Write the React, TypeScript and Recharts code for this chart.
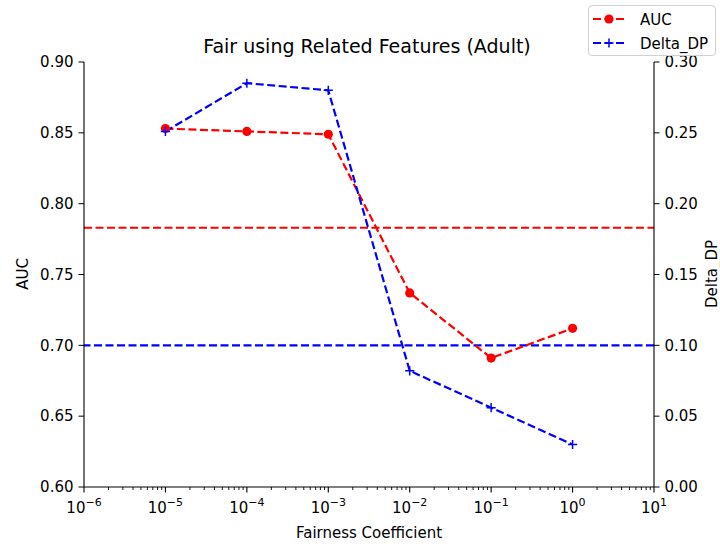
import React from 'react';
import {
  LineChart,
  Line,
  XAxis,
  YAxis,
  ReferenceLine,
} from 'recharts';

const coefficients = [1e-5, 1e-4, 1e-3, 1e-2, 1e-1, 1];
const aucValues = [0.853, 0.851, 0.849, 0.737, 0.691, 0.712];
const deltaDpValues = [0.251, 0.285, 0.280, 0.082, 0.056, 0.030];

const aucBaseline = 0.783;
const deltaDpBaseline = 0.10;

const majorExponents = [-6, -5, -4, -3, -2, -1, 0, 1];
const aucTicks = [0.6, 0.65, 0.7, 0.75, 0.8, 0.85, 0.9];
const deltaTicks = [0, 0.05, 0.1, 0.15, 0.2, 0.25, 0.3];

const FONT = '"DejaVu Sans", sans-serif';
const RED = '#ff0000';
const BLUE = '#0000ff';
const DASH = '8 3.5';

// Major + minor ticks for the log axis
const xTicks: number[] = [];
majorExponents.forEach((e, i) => {
  xTicks.push(Math.pow(10, e));
  if (i < majorExponents.length - 1) {
    for (let m = 2; m <= 9; m++) xTicks.push(m * Math.pow(10, e));
  }
});

const data = coefficients.map((c, i) => ({
  coef: c,
  auc: aucValues[i],
  dp: deltaDpValues[i],
}));

const LogTick = (props: any) => {
  const { x, y, payload } = props;
  const v = payload.value;
  const exp = Math.log10(v);
  const isMajor = Math.abs(exp - Math.round(exp)) < 1e-6;
  const top = y - 8;
  if (!isMajor) {
    return <line x1={x} x2={x} y1={top} y2={top + 3} stroke="#000" strokeWidth={0.9} />;
  }
  const e = Math.round(exp);
  return (
    <g>
      <line x1={x} x2={x} y1={top} y2={top + 5.5} stroke="#000" strokeWidth={1.1} />
      <text x={x} y={top + 26} textAnchor="middle" fontFamily={FONT} fontSize={15} fill="#000">
        <tspan>10</tspan>
        <tspan dy={-7} fontSize={11}>{e < 0 ? `\u2212${-e}` : `${e}`}</tspan>
      </text>
    </g>
  );
};

const PlusDot = (props: any) => {
  const { cx, cy } = props;
  if (cx == null || cy == null) return null;
  const r = 4.6;
  return (
    <path
      d={`M${cx - r},${cy}H${cx + r}M${cx},${cy - r}V${cy + r}`}
      stroke={BLUE}
      strokeWidth={1.5}
      fill="none"
    />
  );
};

const legendItems = [
  { name: 'AUC', color: RED, marker: 'circle' },
  { name: 'Delta_DP', color: BLUE, marker: 'plus' },
];

const Legend = () => (
  <div
    style={{
      position: 'absolute',
      left: 588,
      top: 5,
      width: 128,
      height: 51,
      border: '1px solid #d0d0d0',
      borderRadius: 4,
      background: 'rgba(255,255,255,0.8)',
      boxSizing: 'border-box',
    }}
  >
    <svg width={128} height={51}>
      {legendItems.map((it, i) => {
        const cy = 13 + i * 24;
        return (
          <g key={it.name}>
            <line x1={4} x2={36} y1={cy} y2={cy} stroke={it.color} strokeWidth={2.2} strokeDasharray={DASH} />
            {it.marker === 'circle' ? (
              <circle cx={20} cy={cy} r={4.6} fill={it.color} />
            ) : (
              <path d={`M15.4,${cy}H24.6M20,${cy - 4.6}V${cy + 4.6}`} stroke={it.color} strokeWidth={1.5} />
            )}
            <text x={51} y={cy + 5.5} fontFamily={FONT} fontSize={15} fill="#000">
              {it.name}
            </text>
          </g>
        );
      })}
    </svg>
  </div>
);

export default function App() {
  return (
    <div style={{ position: 'absolute', left: 0, top: 0, width: 720, height: 548, background: '#fff' }}>
      <LineChart
        width={720}
        height={548}
        data={data}
        margin={{ top: 62, right: 16, bottom: 21, left: 20 }}
      >
        <XAxis
          dataKey="coef"
          type="number"
          scale="log"
          domain={[1e-6, 10]}
          ticks={xTicks}
          interval={0}
          tick={<LogTick />}
          tickLine={false}
          axisLine={{ stroke: '#000', strokeWidth: 1.1 }}
          height={40}
          allowDataOverflow
        />
        <XAxis
          xAxisId="top"
          orientation="top"
          dataKey="coef"
          type="number"
          scale="log"
          domain={[1e-6, 10]}
          tick={false}
          tickLine={false}
          axisLine={{ stroke: '#000', strokeWidth: 1.1 }}
          height={0}
          allowDataOverflow
        />
        <YAxis
          yAxisId="left"
          domain={[0.6, 0.9]}
          ticks={aucTicks}
          interval={0}
          tickFormatter={(v: number) => v.toFixed(2)}
          tick={{ fill: '#000', fontSize: 15, fontFamily: FONT }}
          tickLine={{ stroke: '#000' }}
          tickSize={5.5}
          tickMargin={5}
          axisLine={{ stroke: '#000', strokeWidth: 1.1 }}
          width={64}
          allowDataOverflow
        />
        <YAxis
          yAxisId="right"
          orientation="right"
          domain={[0, 0.3]}
          ticks={deltaTicks}
          interval={0}
          tickFormatter={(v: number) => v.toFixed(2)}
          tick={{ fill: '#000', fontSize: 15, fontFamily: FONT }}
          tickLine={{ stroke: '#000' }}
          tickSize={5.5}
          tickMargin={5}
          axisLine={{ stroke: '#000', strokeWidth: 1.1 }}
          width={50}
          allowDataOverflow
        />
        <ReferenceLine yAxisId="left" y={aucBaseline} stroke={RED} strokeWidth={2.2} strokeDasharray={DASH} />
        <ReferenceLine yAxisId="right" y={deltaDpBaseline} stroke={BLUE} strokeWidth={2.2} strokeDasharray={DASH} />
        <Line
          yAxisId="left"
          dataKey="auc"
          name="AUC"
          stroke={RED}
          strokeWidth={2.2}
          strokeDasharray={DASH}
          dot={{ r: 4.6, fill: RED, stroke: RED, strokeWidth: 0, strokeDasharray: '' }}
          type="linear"
          isAnimationActive={false}
        />
        <Line
          yAxisId="right"
          dataKey="dp"
          name="Delta_DP"
          stroke={BLUE}
          strokeWidth={2.2}
          strokeDasharray={DASH}
          dot={<PlusDot />}
          type="linear"
          isAnimationActive={false}
        />
        <text x={367} y={53} textAnchor="middle" fontFamily={FONT} fontSize={19} fill="#000">
          Fair using Related Features (Adult)
        </text>
        <text x={369} y={538} textAnchor="middle" fontFamily={FONT} fontSize={15} fill="#000">
          Fairness Coefficient
        </text>
        <text x={28} y={274} textAnchor="middle" fontFamily={FONT} fontSize={15} fill="#000" transform="rotate(-90 28 274)">
          AUC
        </text>
        <text x={717} y={274} textAnchor="middle" fontFamily={FONT} fontSize={15} fill="#000" transform="rotate(-90 717 274)">
          Delta_DP
        </text>
      </LineChart>
      <Legend />
    </div>
  );
}
